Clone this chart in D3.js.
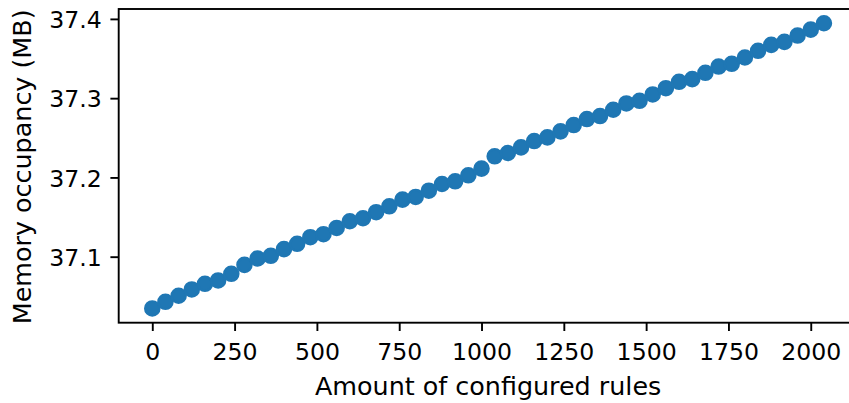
<!DOCTYPE html>
<html>
<head>
<meta charset="utf-8">
<script src="https://cdn.jsdelivr.net/npm/d3@7"></script>
<style>
  html, body { margin: 0; padding: 0; background: #fff; }
  svg { display: block; overflow: hidden; }
  text { font-family: "DejaVu Sans", sans-serif; fill: #000; }
</style>
</head>
<body>
<div id="chart"></div>
<script>
// data
var rules = d3.range(0, 2041, 40); // 0, 40, ... 2040 (52 runs)
var memoryMB = [
  37.0347, 37.0431, 37.0507, 37.0587, 37.0658, 37.0700, 37.0784, 37.0897,
  37.0977, 37.1011, 37.1095, 37.1162, 37.1246, 37.1284, 37.1363, 37.1447,
  37.1485, 37.1561, 37.1636, 37.1720, 37.1754, 37.1833, 37.1917, 37.1951,
  37.2027, 37.2111, 37.2266, 37.2308, 37.2379, 37.2459, 37.2505, 37.2581,
  37.2661, 37.2736, 37.2774, 37.2854, 37.2933, 37.2967, 37.3047, 37.3126,
  37.3206, 37.3240, 37.3320, 37.3399, 37.3433, 37.3513, 37.3597, 37.3672,
  37.3710, 37.3790, 37.3865, 37.3945
];
var xTicks = [0, 250, 500, 750, 1000, 1250, 1500, 1750, 2000];
var yTicks = [37.1, 37.2, 37.3, 37.4];
var xLabel = 'Amount of configured rules';
var yLabel = 'Memory occupancy (MB)';

var points = rules.map((r, i) => ({ x: r, y: memoryMB[i] }));

// params
var width = 849;
var height = 403;
var plot = { left: 118.7, top: 9, right: 857.5, bottom: 322.7 };
var tickLen = 8.3;
var lineW = 1.9;
var tickFont = 23.6;
var labelFont = 25.4;
var color = '#1f77b4';

// matplotlib-like 5% margins around the data
function padded(ext) {
  var m = (ext[1] - ext[0]) * 0.05;
  return [ext[0] - m, ext[1] + m];
}

var x = d3.scaleLinear()
  .domain(padded(d3.extent(rules)))
  .range([plot.left, plot.right]);
var y = d3.scaleLinear()
  .domain(padded(d3.extent(memoryMB)))
  .range([plot.bottom, plot.top]);

var svg = d3.select('#chart').append('svg')
  .attr('width', width)
  .attr('height', height);

// points
svg.append('g')
  .selectAll('circle')
  .data(points)
  .enter()
  .append('circle')
  .attr('cx', d => x(d.x))
  .attr('cy', d => y(d.y))
  .attr('r', 7.1)
  .attr('fill', color)
  .attr('stroke', color)
  .attr('stroke-width', 2.36);

// axes
var xAxis = svg.append('g')
  .attr('transform', `translate(0, ${plot.bottom})`)
  .call(d3.axisBottom(x).tickValues(xTicks).tickFormat(d3.format('d'))
    .tickSize(tickLen).tickSizeOuter(0).tickPadding(0));
xAxis.selectAll('text')
  .attr('y', 37.5)
  .attr('dy', null)
  .style('font-size', tickFont + 'px')
  .style('font-family', '"DejaVu Sans", sans-serif');

var yAxis = svg.append('g')
  .attr('transform', `translate(${plot.left}, 0)`)
  .call(d3.axisLeft(y).tickValues(yTicks).tickFormat(d3.format('.1f'))
    .tickSize(tickLen).tickSizeOuter(0).tickPadding(0));
yAxis.selectAll('text')
  .attr('x', -17)
  .attr('dy', null)
  .attr('y', 8.6)
  .style('font-size', tickFont + 'px')
  .style('font-family', '"DejaVu Sans", sans-serif');

[xAxis, yAxis].forEach(function(ax) {
  ax.select('.domain').remove();
  ax.selectAll('.tick line')
    .attr('stroke', '#000')
    .attr('stroke-width', lineW);
});

// spines
svg.append('rect')
  .attr('x', plot.left)
  .attr('y', plot.top)
  .attr('width', plot.right - plot.left)
  .attr('height', plot.bottom - plot.top)
  .attr('fill', 'none')
  .attr('stroke', '#000')
  .attr('stroke-width', lineW);

// axis labels
svg.append('text')
  .attr('x', (plot.left + plot.right) / 2)
  .attr('y', 395)
  .attr('text-anchor', 'middle')
  .style('font-size', labelFont + 'px')
  .text(xLabel);

svg.append('text')
  .attr('transform', `translate(31, ${(plot.top + plot.bottom) / 2 + 1}) rotate(-90)`)
  .attr('text-anchor', 'middle')
  .style('font-size', labelFont + 'px')
  .text(yLabel);
</script>
</body>
</html>
